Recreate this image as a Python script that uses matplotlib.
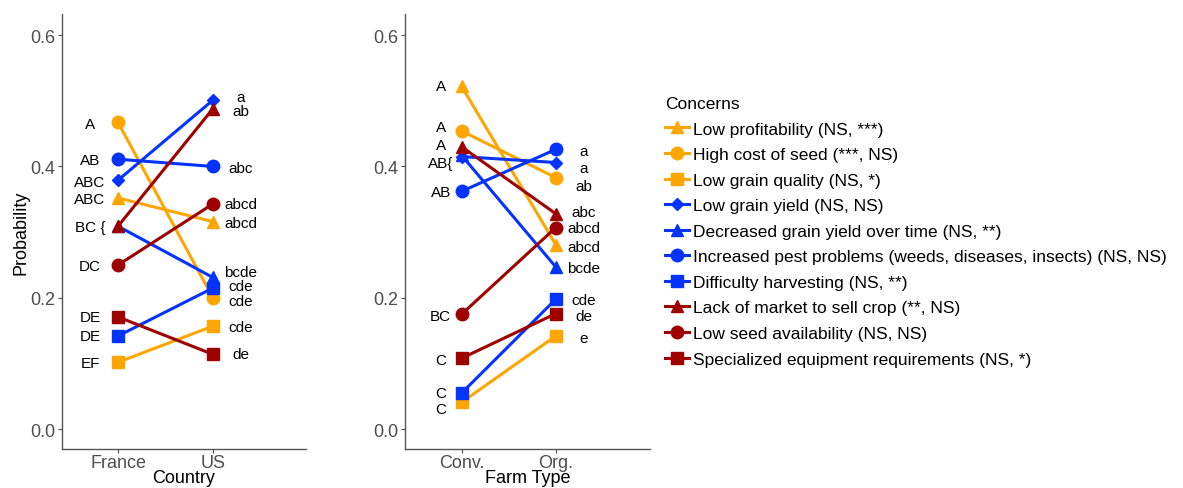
import matplotlib.pyplot as plt

plt.rcParams['font.family'] = ['Liberation Sans', 'DejaVu Sans']

# Concerns (legend order) and styles
concerns = [
    "Low profitability (NS, ***)",
    "High cost of seed (***, NS)",
    "Low grain quality (NS, *)",
    "Low grain yield (NS, NS)",
    "Decreased grain yield over time (NS, **)",
    "Increased pest problems (weeds, diseases, insects) (NS, NS)",
    "Difficulty harvesting (NS, **)",
    "Lack of market to sell crop (**, NS)",
    "Low seed availability (NS, NS)",
    "Specialized equipment requirements (NS, *)",
]
colors = ["#FFA500", "#FFA500", "#FFA500", "#0433FF", "#0433FF", "#0433FF",
          "#0433FF", "#9E0000", "#9E0000", "#9E0000"]
markers = ["^", "o", "s", "D", "^", "o", "s", "^", "o", "s"]
msizes = [9, 9, 8, 6, 9, 9, 8, 9, 9, 8]

# Country panel
countries = ["France", "US"]
france = [0.352, 0.467, 0.102, 0.379, 0.309, 0.411, 0.142, 0.309, 0.250, 0.171]
us = [0.316, 0.200, 0.157, 0.501, 0.231, 0.400, 0.215, 0.488, 0.343, 0.114]

france_letters = ["A", "AB", "ABC", "ABC", "BC {", "DC", "DE", "DE", "EF"]
france_label_y = [0.465, 0.410, 0.377, 0.350, 0.308, 0.249, 0.171, 0.142, 0.101]
us_letters = ["a", "ab", "abc", "abcd", "abcd", "bcde", "cde", "cde", "cde", "de"]
us_label_y = [0.505, 0.484, 0.398, 0.343, 0.314, 0.240, 0.218, 0.195, 0.156, 0.114]

# Farm type panel
farm_types = ["Conv.", "Org."]
conv = [0.522, 0.454, 0.041, 0.415, 0.417, 0.362, 0.055, 0.430, 0.175, 0.108]
org = [0.281, 0.383, 0.142, 0.406, 0.247, 0.426, 0.198, 0.328, 0.307, 0.176]

conv_letters = ["A", "A", "A", "AB{", "AB", "BC", "C", "C", "C"]
conv_label_y = [0.523, 0.460, 0.432, 0.405, 0.361, 0.172, 0.106, 0.055, 0.031]
org_letters = ["a", "a", "ab", "abc", "abcd", "abcd", "bcde", "cde", "de", "e"]
org_label_y = [0.424, 0.398, 0.371, 0.330, 0.306, 0.278, 0.245, 0.197, 0.173, 0.139]

W, H = 1183, 489
fig = plt.figure(figsize=(W / 100, H / 100), dpi=100)
ax1 = fig.add_axes([62 / W, 1 - 450 / H, 244 / W, 435 / H])
ax2 = fig.add_axes([405 / W, 1 - 450 / H, 245 / W, 435 / H])


def draw_panel(ax, left, right, cats, l_lab, l_y, r_lab, r_y, xlabel, xlim, loff, roff):
    for i in range(len(concerns)):
        ax.plot([1, 2], [left[i], right[i]], color=colors[i], marker=markers[i],
                markersize=msizes[i], linewidth=2.2, label=concerns[i])
    for t, y in zip(l_lab, l_y):
        ax.text(1 + loff, y, t, ha="center", va="center", fontsize=11, color="black")
    for t, y in zip(r_lab, r_y):
        ax.text(2 + roff, y, t, ha="center", va="center", fontsize=11, color="black")
    ax.set_xlim(*xlim)
    ax.set_ylim(-0.03, 0.632)
    ax.set_xticks([1, 2])
    ax.set_xticklabels(cats)
    ax.set_yticks([0.0, 0.2, 0.4, 0.6])
    ax.set_yticklabels(["0.0", "0.2", "0.4", "0.6"])
    ax.tick_params(labelsize=13, colors="#4D4D4D", length=3, width=0.8, pad=2)
    ax.tick_params(axis="x", pad=0.5)
    for s in ["top", "right"]:
        ax.spines[s].set_visible(False)
    for s in ["left", "bottom"]:
        ax.spines[s].set_color("#555555")
        ax.spines[s].set_linewidth(1.0)
    ax.set_xlabel(xlabel, fontsize=13, labelpad=-1.5)


draw_panel(ax1, france, us, countries, france_letters, france_label_y,
           us_letters, us_label_y, "Country", (0.41, 2.98), -0.295, 0.295)
ax1.set_ylabel("Probability", fontsize=13, labelpad=0)

draw_panel(ax2, conv, org, farm_types, conv_letters, conv_label_y,
           org_letters, org_label_y, "Farm Type", (0.40, 3.0), -0.22, 0.30)

handles, labels = ax1.get_legend_handles_labels()
fig.legend(handles, labels, loc="upper left", bbox_to_anchor=(658 / W, 1 - 90 / H),
           frameon=False, title="Concerns", fontsize=12.5, title_fontsize=12.5,
           alignment="left", handlelength=1.4, handletextpad=0.2,
           labelspacing=0.6, borderaxespad=0)

fig.savefig("out.png", dpi=100)
